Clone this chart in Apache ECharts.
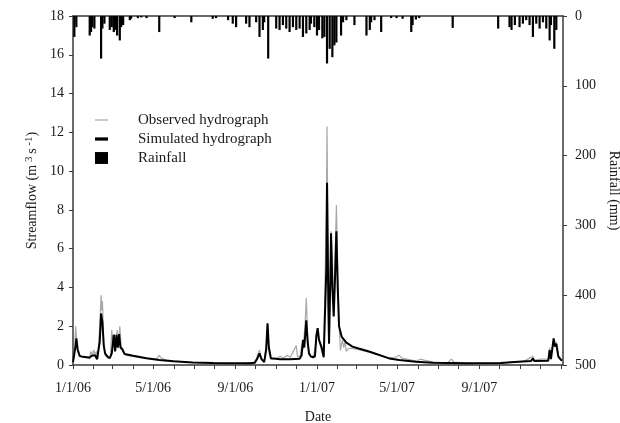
<!DOCTYPE html>
<html>
<head>
<meta charset="utf-8">
<script src="https://cdn.jsdelivr.net/npm/echarts@6/dist/echarts.min.js"></script>
<style>
html,body{margin:0;padding:0;background:#fff;}
#chart{width:620px;height:423px;}
</style>
</head>
<body>
<div id="chart"></div>
<script>
// Days counted from 1/1/06
var dateTickLabels = ['1/1/06', '5/1/06', '9/1/06', '1/1/07', '5/1/07', '9/1/07'];
var dateTickDays = [0, 120, 243, 365, 485, 608];
var monthTickDays = [0, 31, 59, 90, 120, 151, 181, 212, 243, 273, 304, 334, 365, 396, 424, 455, 485, 516, 546, 577, 608, 638, 669, 699, 730];
var flowTicks = [0, 2, 4, 6, 8, 10, 12, 14, 16, 18];
var rainTicks = [0, 100, 200, 300, 400, 500];

var obsDay = [0, 2, 4, 5, 7, 10, 20, 25, 27, 29, 31, 33, 35, 37, 40, 42, 43, 44, 46, 48, 53, 56, 58, 60, 62, 64, 66, 68, 70, 72, 75, 80, 100, 120, 126, 129, 132, 140, 160, 177, 179, 182, 210, 230, 250, 265, 270, 274, 276, 279, 282, 286, 289, 291, 293, 296, 305, 310, 315, 320, 325, 334, 336, 340, 342, 344, 347, 349, 351, 353, 356, 360, 364, 366, 368, 370, 372, 375, 377, 379, 380, 381, 383, 385, 386, 388, 390, 392, 394, 396, 398, 400, 403, 405, 407, 409, 412, 418, 426, 444, 470, 482, 488, 492, 500, 513, 520, 525, 540, 560, 566, 570, 600, 640, 660, 675, 688, 690, 700, 711, 713, 715, 719, 721, 723, 726, 730];
var obsFlow = [0.2, 0.5, 2.0, 1.5, 0.7, 0.45, 0.4, 0.45, 0.7, 0.5, 0.77, 0.55, 0.7, 0.3, 2.0, 3.6, 2.8, 3.3, 1.2, 0.5, 0.35, 0.4, 1.8, 1.0, 1.6, 0.8, 1.8, 1.0, 2.0, 1.0, 0.7, 0.5, 0.38, 0.3, 0.35, 0.5, 0.35, 0.25, 0.18, 0.14, 0.22, 0.13, 0.1, 0.08, 0.07, 0.12, 0.1, 0.3, 0.5, 0.77, 0.3, 0.2, 1.0, 2.1, 0.7, 0.3, 0.35, 0.45, 0.35, 0.5, 0.4, 1.0, 0.4, 0.5, 1.0, 0.8, 2.0, 3.45, 1.5, 0.6, 0.45, 0.5, 1.2, 1.9, 1.2, 1.0, 0.7, 0.5, 0.6, 8.0, 12.3, 8.0, 1.2, 5.0, 6.9, 5.5, 3.0, 5.5, 8.25, 5.0, 2.2, 0.75, 1.3, 0.9, 1.2, 0.7, 0.85, 0.85, 0.8, 0.65, 0.38, 0.4, 0.5, 0.35, 0.3, 0.2, 0.3, 0.25, 0.15, 0.1, 0.3, 0.15, 0.07, 0.1, 0.15, 0.2, 0.45, 0.25, 0.3, 0.3, 0.9, 0.4, 1.3, 1.0, 1.2, 0.5, 0.3];

var simDay = [0, 2, 4, 5, 7, 10, 15, 25, 28, 33, 36, 38, 40, 42, 44, 46, 48, 52, 55, 58, 61, 63, 65, 67, 69, 71, 74, 77, 90, 110, 129, 150, 179, 210, 239, 265, 272, 276, 279, 282, 286, 289, 291, 293, 296, 310, 325, 339, 342, 344, 346, 349, 351, 353, 356, 359, 362, 364, 366, 368, 370, 372, 375, 377, 379, 380, 382, 383, 385, 386, 388, 390, 392, 394, 396, 398, 402, 409, 418, 426, 444, 473, 488, 513, 538, 588, 640, 660, 685, 688, 690, 711, 713, 715, 717, 719, 721, 723, 726, 730, 732];
var simFlow = [0.15, 0.2, 1.0, 1.37, 0.8, 0.46, 0.42, 0.38, 0.48, 0.5, 0.3, 0.25, 1.2, 2.66, 2.2, 1.0, 0.6, 0.42, 0.35, 0.6, 1.55, 0.7, 1.55, 0.9, 1.6, 0.9, 0.8, 0.57, 0.48, 0.35, 0.26, 0.19, 0.13, 0.1, 0.09, 0.09, 0.12, 0.35, 0.6, 0.3, 0.15, 0.8, 2.15, 0.9, 0.35, 0.3, 0.3, 0.32, 0.5, 1.3, 0.9, 2.3, 1.2, 0.6, 0.43, 0.4, 0.45, 1.5, 1.9, 1.3, 1.1, 0.9, 0.4, 0.45, 5.0, 9.4, 3.0, 1.1, 4.5, 6.8, 4.0, 2.5, 4.5, 6.9, 4.0, 2.0, 1.45, 1.15, 0.95, 0.86, 0.68, 0.34, 0.26, 0.17, 0.12, 0.09, 0.1, 0.15, 0.2, 0.34, 0.2, 0.22, 0.77, 0.3, 0.35, 1.37, 0.95, 1.1, 0.43, 0.26, 0.25];

var rainDay = [2, 5, 25, 27, 29, 32, 42, 44, 47, 55, 58, 61, 63, 66, 70, 72, 75, 85, 87, 97, 102, 110, 129, 152, 177, 209, 214, 232, 239, 244, 259, 264, 274, 279, 284, 286, 292, 304, 309, 314, 319, 324, 329, 334, 339, 344, 349, 354, 356, 361, 365, 368, 373, 376, 380, 384, 388, 391, 394, 401, 404, 409, 421, 439, 444, 446, 451, 461, 476, 484, 493, 506, 508, 513, 518, 568, 636, 653, 656, 661, 668, 673, 678, 683, 688, 693, 698, 703, 708, 713, 715, 720, 723];
var rainMm = [30, 16, 28, 23, 16, 18, 61, 18, 11, 20, 16, 23, 20, 28, 35, 16, 13, 6, 4, 3, 2, 3, 23, 3, 9, 4, 3, 6, 11, 16, 11, 16, 9, 30, 20, 9, 61, 18, 20, 13, 18, 23, 16, 20, 18, 30, 25, 20, 11, 16, 28, 20, 32, 30, 68, 47, 59, 42, 38, 28, 9, 6, 13, 28, 20, 9, 6, 23, 3, 3, 4, 23, 13, 5, 3, 17, 18, 16, 20, 13, 16, 11, 6, 13, 30, 11, 18, 9, 18, 35, 13, 47, 20];

function zip(a, b) { return a.map(function (v, i) { return [v, b[i]]; }); }

var FONT = 'Liberation Serif';
var TXT = '#1a1a1a';
var AX = '#3a3a3a';

var chart = echarts.init(document.getElementById('chart'));
chart.setOption({
  animation: false,
  backgroundColor: '#fff',
  textStyle: { fontFamily: FONT, color: TXT },
  grid: { left: 73, right: 57, top: 16, bottom: 58, containLabel: false, outerBoundsMode: 'none' },
  legend: {
    orient: 'vertical',
    left: 90,
    top: 107,
    itemWidth: 13,
    itemHeight: 12,
    itemGap: 3,
    symbolKeepAspect: true,
    textStyle: { fontFamily: FONT, fontSize: 15, color: TXT, lineHeight: 16, padding: [0, 0, 0, 25] },
    data: [
      { name: 'Observed hydrograph', icon: 'path://M0,0H13V1.2H0Z' },
      { name: 'Simulated hydrograph', icon: 'path://M0,0H12V3H0Z' },
      { name: 'Rainfall', icon: 'path://M0,0H12V11H0Z' }
    ]
  },
  xAxis: [{
    type: 'value',
    min: 0,
    max: 733,
    name: 'Date',
    nameLocation: 'middle',
    nameGap: 45,
    nameTextStyle: { fontFamily: FONT, fontSize: 14, color: TXT },
    splitLine: { show: false },
    axisLine: { show: true, onZero: false, lineStyle: { color: AX, width: 1.5 } },
    axisTick: { show: true, inside: false, length: 4, customValues: monthTickDays, lineStyle: { color: AX } },
    axisLabel: {
      customValues: dateTickDays,
      margin: 16,
      fontFamily: FONT, fontSize: 14, color: TXT,
      formatter: function (v) { var i = dateTickDays.indexOf(v); return i >= 0 ? dateTickLabels[i] : ''; }
    }
  }, {
    type: 'value',
    position: 'top',
    min: 0,
    max: 733,
    axisLine: { show: true, onZero: false, lineStyle: { color: AX, width: 1.5 } },
    axisTick: { show: false },
    axisLabel: { show: false },
    splitLine: { show: false }
  }],
  yAxis: [{
    type: 'value',
    position: 'left',
    min: 0,
    max: 18,
    interval: 2,
    name: '{a|Streamflow (m}{s| 3 }{a|s}{s| -1}{a|)}',
    nameLocation: 'middle',
    nameRotate: 90,
    nameGap: 30,
    nameTextStyle: {
      rich: {
        a: { fontFamily: FONT, fontSize: 14, color: TXT },
        s: { fontFamily: FONT, fontSize: 11, color: TXT, verticalAlign: 'top', padding: [0, 0, 6, 0] }
      }
    },
    splitLine: { show: false },
    axisLine: { show: true, onZero: false, lineStyle: { color: AX, width: 1.5 } },
    axisTick: { show: true, length: 4, lineStyle: { color: AX } },
    axisLabel: { margin: 9, fontFamily: FONT, fontSize: 14, color: TXT,
      formatter: function (v) { return flowTicks.indexOf(v) >= 0 ? String(v) : ''; } }
  }, {
    type: 'value',
    position: 'right',
    inverse: true,
    min: 0,
    max: 500,
    interval: 100,
    name: 'Rainfall (mm)',
    nameLocation: 'middle',
    nameRotate: -90,
    nameGap: 42,
    nameTextStyle: { fontFamily: FONT, fontSize: 14, color: TXT },
    splitLine: { show: false },
    axisLine: { show: true, onZero: false, lineStyle: { color: AX, width: 1.5 } },
    axisTick: { show: true, length: 4, lineStyle: { color: AX } },
    axisLabel: { margin: 12, fontFamily: FONT, fontSize: 14, color: TXT,
      formatter: function (v) { return rainTicks.indexOf(v) >= 0 ? String(v) : ''; } }
  }],
  series: [{
    name: 'Rainfall',
    type: 'bar',
    xAxisIndex: 0,
    yAxisIndex: 1,
    barWidth: 2.2,
    itemStyle: { color: '#000' },
    data: zip(rainDay, rainMm)
  }, {
    name: 'Observed hydrograph',
    type: 'line',
    xAxisIndex: 0,
    yAxisIndex: 0,
    showSymbol: false,
    symbol: 'none',
    lineStyle: { color: '#a8a8a8', width: 1.2 },
    itemStyle: { color: '#a8a8a8' },
    data: zip(obsDay, obsFlow)
  }, {
    name: 'Simulated hydrograph',
    type: 'line',
    xAxisIndex: 0,
    yAxisIndex: 0,
    showSymbol: false,
    symbol: 'none',
    lineStyle: { color: '#000', width: 2 },
    itemStyle: { color: '#000' },
    data: zip(simDay, simFlow)
  }]
});
</script>
</body>
</html>
